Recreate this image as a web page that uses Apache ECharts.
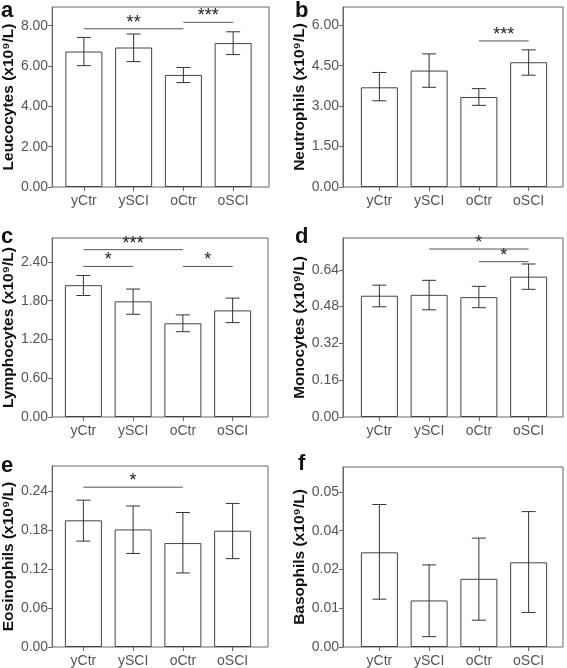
<!DOCTYPE html>
<html><head><meta charset="utf-8">
<script src="https://cdn.jsdelivr.net/npm/echarts@6/dist/echarts.min.js"></script>
<style>html,body{margin:0;padding:0;background:#fff}#c{width:567px;height:668px}</style>
</head><body><div id="c"></div>
<script>
// ---- data ----
const categories = ['yCtr', 'ySCI', 'oCtr', 'oSCI'];

const leucoMean = [6.72, 6.92, 5.56, 7.14];
const leucoLow  = [6.02, 6.22, 5.18, 6.57];
const leucoHigh = [7.42, 7.59, 5.93, 7.70];
const leucoTicks = [0, 2, 4, 6, 8];
const leucoSig = [[0, 2, 7.85, '**'], [2, 3, 8.17, '***']];

const neutroMean = [3.70, 4.32, 3.34, 4.63];
const neutroLow  = [3.20, 3.70, 3.03, 4.15];
const neutroHigh = [4.25, 4.94, 3.65, 5.09];
const neutroTicks = [0, 1.5, 3, 4.5, 6];
const neutroSig = [[2, 3, 5.42, '***']];

const lymphoMean = [2.04, 1.79, 1.45, 1.65];
const lymphoLow  = [1.88, 1.59, 1.32, 1.46];
const lymphoHigh = [2.19, 1.98, 1.58, 1.84];
const lymphoTicks = [0, 0.6, 1.2, 1.8, 2.4];
const lymphoSig = [[0, 2, 2.59, '***'], [0, 1, 2.33, '*'], [2, 3, 2.33, '*']];

const monoMean = [0.527, 0.531, 0.521, 0.610];
const monoLow  = [0.479, 0.466, 0.475, 0.555];
const monoHigh = [0.573, 0.594, 0.568, 0.665];
const monoTicks = [0, 0.16, 0.32, 0.48, 0.64];
const monoSig = [[1, 3, 0.730, '*'], [2, 3, 0.675, '*']];

const eosMean = [0.195, 0.181, 0.160, 0.179];
const eosLow  = [0.163, 0.144, 0.114, 0.136];
const eosHigh = [0.226, 0.217, 0.207, 0.221];
const eosTicks = [0, 0.06, 0.12, 0.18, 0.24];
const eosSig = [[0, 2, 0.246, '*']];

const basoMean = [0.0293, 0.0144, 0.0211, 0.0262];
const basoLow  = [0.0148, 0.0032, 0.0083, 0.0107];
const basoHigh = [0.0441, 0.0254, 0.0337, 0.0419];
const basoTicks = [0, 0.012, 0.024, 0.036, 0.048];
const basoSig = [];

const axisMax = [8.93, 6.68, 2.77, 0.778, 0.2786, 0.0557];
const yNames = ['Leucocytes', 'Neutrophils', 'Lymphocytes', 'Monocytes', 'Eosinophils', 'Basophils'];
const panelLetters = ['a', 'b', 'c', 'd', 'e', 'f'];

// ---- layout (positions only) ----
const layout = [
  {frame: {left: 48, top: 7, width: 221, height: 180}, bars: {left: 59, width: 199}, letter: [1, 0]},
  {frame: {left: 343, top: 7, width: 220, height: 180}, bars: {left: 354.5, width: 199}, letter: [295, 0]},
  {frame: {left: 47, top: 238, width: 221, height: 179}, bars: {left: 58.5, width: 199}, letter: [1, 226]},
  {frame: {left: 343, top: 238, width: 220, height: 179}, bars: {left: 354.5, width: 199}, letter: [295, 226]},
  {frame: {left: 47, top: 466, width: 221, height: 181}, bars: {left: 58.5, width: 199}, letter: [1, 455]},
  {frame: {left: 343, top: 467, width: 220, height: 180}, bars: {left: 354.5, width: 199}, letter: [298, 453]}
];

const panels = [
  [leucoMean, leucoLow, leucoHigh, leucoTicks, leucoSig],
  [neutroMean, neutroLow, neutroHigh, neutroTicks, neutroSig],
  [lymphoMean, lymphoLow, lymphoHigh, lymphoTicks, lymphoSig],
  [monoMean, monoLow, monoHigh, monoTicks, monoSig],
  [eosMean, eosLow, eosHigh, eosTicks, eosSig],
  [basoMean, basoLow, basoHigh, basoTicks, basoSig]
];

const FONT = '"Liberation Sans", Arial, sans-serif';
const AX = '#666';
const TXT = '#555';

const grid = [], xAxis = [], yAxis = [], series = [], graphic = [];

panels.forEach((p, i) => {
  const [mean, low, high, ticks, sig] = p;
  const L = layout[i];
  const gF = grid.length;
  grid.push({left: L.frame.left, top: L.frame.top, width: L.frame.width, height: L.frame.height,
    show: true, borderColor: AX, borderWidth: 1, backgroundColor: 'transparent', containLabel: false});
  const gB = grid.length;
  grid.push({left: L.bars.left, top: L.frame.top, width: L.bars.width, height: L.frame.height, containLabel: false});

  xAxis.push({type: 'category', gridIndex: gF, data: categories, show: false});
  yAxis.push({
    type: 'value', gridIndex: gF, min: 0, max: axisMax[i],
    name: yNames[i] + ' (x10⁹/L)', nameLocation: 'middle', nameGap: 30,
    nameTextStyle: {fontFamily: FONT, fontWeight: 'bold', fontSize: 15.5, color: '#111'},
    axisLine: {show: true, lineStyle: {color: AX}},
    axisTick: {show: true, length: 4, lineStyle: {color: AX}, customValues: ticks},
    axisLabel: {show: true, color: TXT, fontFamily: FONT, fontSize: 14, margin: 4,
      customValues: ticks, formatter: v => Number(v).toFixed(2)},
    splitLine: {show: false}
  });

  const xB = xAxis.length;
  xAxis.push({type: 'category', gridIndex: gB, data: categories,
    axisLine: {show: false},
    axisTick: {show: true, alignWithLabel: true, length: 4, lineStyle: {color: AX}},
    axisLabel: {color: TXT, fontFamily: FONT, fontSize: 14, margin: 7},
    splitLine: {show: false}});
  const yB = yAxis.length;
  yAxis.push({type: 'value', gridIndex: gB, min: 0, max: axisMax[i], show: false, splitLine: {show: false}});

  series.push({
    type: 'bar', xAxisIndex: xB, yAxisIndex: yB, data: mean, barWidth: 37,
    itemStyle: {color: '#fff', borderColor: '#444', borderWidth: 1}, silent: true
  });

  const errData = categories.map((c, k) => [k, low[k], high[k]]);
  series.push({
    type: 'custom', xAxisIndex: xB, yAxisIndex: yB, data: errData, silent: true, z: 5,
    renderItem: (params, api) => {
      const pLo = api.coord([api.value(0), api.value(1)]);
      const pHi = api.coord([api.value(0), api.value(2)]);
      const w = 7;
      const st = {stroke: '#333', lineWidth: 1};
      return {type: 'group', children: [
        {type: 'line', shape: {x1: pLo[0], y1: pLo[1], x2: pHi[0], y2: pHi[1]}, style: st},
        {type: 'line', shape: {x1: pLo[0] - w, y1: pLo[1], x2: pLo[0] + w, y2: pLo[1]}, style: st},
        {type: 'line', shape: {x1: pHi[0] - w, y1: pHi[1], x2: pHi[0] + w, y2: pHi[1]}, style: st}
      ]};
    }
  });

  if (sig.length) {
    series.push({
      type: 'custom', xAxisIndex: xB, yAxisIndex: yB, silent: true, z: 6,
      data: sig.map(s => [s[0], s[1], s[2]]),
      renderItem: (params, api) => {
        const a = api.coord([api.value(0), api.value(2)]);
        const b = api.coord([api.value(1), api.value(2)]);
        return {type: 'group', children: [
          {type: 'line', shape: {x1: a[0], y1: a[1], x2: b[0], y2: b[1]}, style: {stroke: '#555', lineWidth: 1}},
          {type: 'text', style: {text: sig[params.dataIndex][3], x: (a[0] + b[0]) / 2, y: a[1] - 6,
            align: 'center', verticalAlign: 'middle', fill: '#222', fontFamily: FONT, fontSize: 18}}
        ]};
      }
    });
  }

  graphic.push({type: 'text', left: L.letter[0], top: L.letter[1],
    style: {text: panelLetters[i], fontFamily: FONT, fontWeight: 'bold', fontSize: 22, fill: '#111'}});
});

const chart = echarts.init(document.getElementById('c'), null, {renderer: 'canvas'});
chart.setOption({animation: false, grid, xAxis, yAxis, series, graphic});
</script>
</body></html>
